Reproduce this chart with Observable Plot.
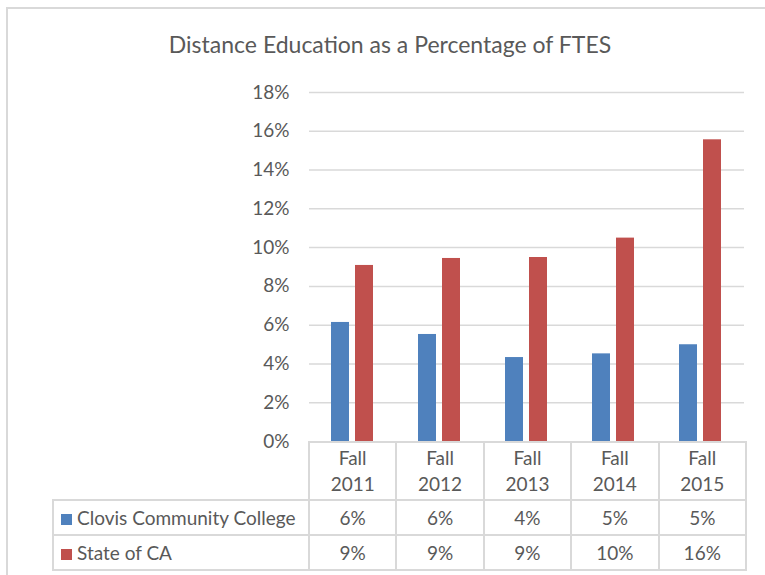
<!DOCTYPE html>
<html>
<head>
<meta charset="utf-8">
<script src="https://cdn.jsdelivr.net/npm/d3@7"></script>
<script src="https://cdn.jsdelivr.net/npm/@observablehq/plot@0.6"></script>
<style>
  html, body { margin: 0; padding: 0; background: #fff; }
  #wrap { position: relative; width: 765px; height: 575px; overflow: hidden; font-family: Lato, "Open Sans", sans-serif; color: #595959; }
  #frame { position: absolute; left: 6px; top: 7px; width: 800px; height: 600px; border-left: 2px solid #d9d9d9; border-top: 2px solid #d9d9d9; }
  #title { position: absolute; left: 0; top: 30px; width: 780px; text-align: center; font-size: 23px; color: #595959; }
  #plot { position: absolute; left: 0; top: 0; }
  #tbl { position: absolute; left: 52px; top: 441px; border-collapse: collapse; table-layout: fixed; font-size: 19px; color: #595959; }
  #tbl td { border: 2px solid #d9d9d9; text-align: center; padding: 0; }
  #tbl td.blank { border-top: none; border-left: none; }
  #tbl td.leg { text-align: left; padding-left: 7px; white-space: nowrap; }
  .sw { display: inline-block; width: 11px; height: 11px; margin-right: 5px; vertical-align: 0px; }
</style>
</head>
<body>
<div id="wrap">
  <div id="frame"></div>
  <div id="title">Distance Education as a Percentage of FTES</div>
  <div id="plot"></div>
  <table id="tbl"></table>
</div>
<script>
const categories = ["Fall 2011", "Fall 2012", "Fall 2013", "Fall 2014", "Fall 2015"];
const seriesNames = ["Clovis Community College", "State of CA"];
const clovis = [6.14, 5.52, 4.33, 4.52, 4.99];
const stateCA = [9.08, 9.44, 9.49, 10.49, 15.56];
const colors = ["#4F81BD", "#C0504D"];
const yTicks = [0, 2, 4, 6, 8, 10, 12, 14, 16, 18];

const data = [];
categories.forEach((c, i) => {
  data.push({cat: c, series: seriesNames[0], v: clovis[i]});
  data.push({cat: c, series: seriesNames[1], v: stateCA[i]});
});

const chart = Plot.plot({
  width: 765,
  height: 575,
  marginLeft: 308,
  marginRight: 20,
  marginTop: 92,
  marginBottom: 134,
  style: {fontFamily: "Lato, 'Open Sans', sans-serif", fontSize: "19px", color: "#595959", background: "transparent"},
  fx: {domain: categories, padding: 0, axis: null},
  x: {domain: seriesNames, paddingInner: 0.24, paddingOuter: 0.868, axis: null},
  y: {domain: [0, 18], ticks: yTicks, tickFormat: d => d + "%", tickSize: 0, tickPadding: 20, label: null},
  color: {domain: seriesNames, range: colors},
  marks: [
    Plot.ruleY(yTicks.filter(t => t > 0), {stroke: "#d9d9d9", strokeWidth: 1.5}),
    Plot.barY(data, {fx: "cat", x: "series", y: "v", fill: "series"}),
    Plot.axisY({ticks: yTicks, tickFormat: d => d + "%", tickSize: 0, tickPadding: 20, fontSize: 19, fill: "#595959", label: null})
  ]
});
document.getElementById("plot").appendChild(chart);

// data table under the chart
const colW = (765 - 20 - 308) / categories.length;
const tbl = document.getElementById("tbl");
let html = `<colgroup><col style="width:256px">${categories.map(() => `<col style="width:${colW}px">`).join("")}</colgroup>`;
html += `<tr style="height:58px"><td class="blank"></td>${categories.map(c => {
  const [a, b] = c.split(" ");
  return `<td style="line-height:26px">${a}<br>${b}</td>`;
}).join("")}</tr>`;
[clovis, stateCA].forEach((vals, k) => {
  html += `<tr style="height:35px"><td class="leg"><span class="sw" style="background:${colors[k]}"></span>${seriesNames[k]}</td>${vals.map(v => `<td>${Math.round(v)}%</td>`).join("")}</tr>`;
});
tbl.innerHTML = html;
</script>
</body>
</html>
